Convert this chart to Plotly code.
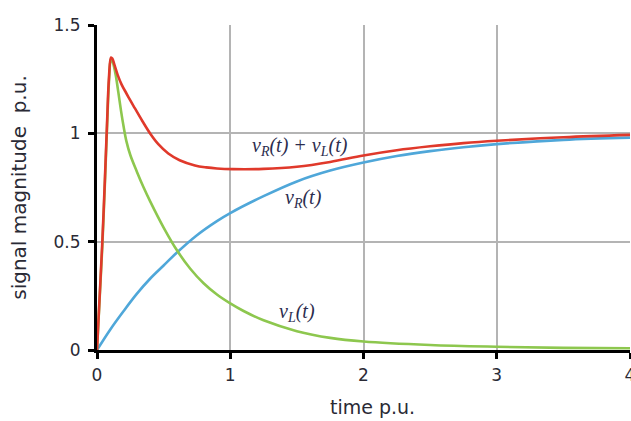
import plotly.graph_objects as go

# time samples (p.u.) and signal values
t_sum = [0, 0.02, 0.04, 0.06, 0.075, 0.09, 0.105, 0.115, 0.13, 0.155, 0.185, 0.22, 0.25,
         0.285, 0.34, 0.4, 0.46, 0.535, 0.62, 0.735, 0.82, 0.9, 1.02, 1.25, 1.5, 1.75,
         2.0, 2.25, 2.5, 2.75, 3.0, 3.5, 4.0]
v_sum = [0, 0.25, 0.5, 0.8, 1.04, 1.26, 1.35, 1.345, 1.318, 1.27, 1.225, 1.185, 1.152,
         1.115, 1.057, 0.998, 0.95, 0.907, 0.876, 0.852, 0.843, 0.838, 0.835, 0.836, 0.846,
         0.868, 0.898, 0.922, 0.94, 0.955, 0.966, 0.982, 0.993]

t_r = [0, 0.1, 0.2, 0.3, 0.4, 0.5, 0.6, 0.75, 0.9, 1.0, 1.25, 1.5, 1.75, 2.0, 2.25, 2.5,
       2.75, 3.0, 3.5, 4.0]
v_r = [0, 0.095, 0.18, 0.26, 0.33, 0.39, 0.45, 0.53, 0.595, 0.632, 0.71, 0.778, 0.828, 0.865,
       0.895, 0.918, 0.936, 0.95, 0.97, 0.98]

t_l = [0, 0.02, 0.04, 0.06, 0.075, 0.09, 0.105, 0.12, 0.14, 0.16, 0.18, 0.2, 0.22, 0.25,
       0.3, 0.35, 0.4, 0.5, 0.6, 0.7, 0.8, 0.9, 1.0, 1.1, 1.25, 1.5, 1.75, 2.0, 2.5, 3.0,
       3.5, 4.0]
v_l = [0, 0.24, 0.48, 0.78, 1.02, 1.24, 1.345, 1.325, 1.27, 1.19, 1.105, 1.03, 0.965, 0.9,
       0.822, 0.75, 0.685, 0.565, 0.46, 0.375, 0.308, 0.256, 0.215, 0.18, 0.137, 0.087,
       0.056, 0.039, 0.023, 0.015, 0.01, 0.008]

x_ticks = [0, 1, 2, 3, 4]
y_ticks = [0, 0.5, 1, 1.5]
y_tick_text = ["0", "0.5", "1", "1.5"]

labels = [
    (1.52, 0.94, "<i>v<sub>R</sub>(t) + v<sub>L</sub>(t)</i>"),
    (1.55, 0.70, "<i>v<sub>R</sub>(t)</i>"),
    (1.5, 0.175, "<i>v<sub>L</sub>(t)</i>"),
]

line_style = dict(width=2.6, shape="spline", smoothing=1.0)

fig = go.Figure()
fig.add_trace(go.Scatter(x=t_r, y=v_r, mode="lines", line=dict(color="#4fa7d9", **line_style)))
fig.add_trace(go.Scatter(x=t_l, y=v_l, mode="lines", line=dict(color="#8dc74e", **line_style)))
fig.add_trace(go.Scatter(x=t_sum, y=v_sum, mode="lines", line=dict(color="#e0392b", **line_style)))

for x, y, txt in labels:
    fig.add_annotation(x=x, y=y, text=txt, showarrow=False, xref="x", yref="y",
                       font=dict(family="Liberation Serif", size=20, color="#2b2d4e"))

# x-axis title placed as a paper annotation (it sits a little right of the plot centre)
fig.add_annotation(x=0.516, y=-0.175, xref="paper", yref="paper", text="time p.u.",
                   showarrow=False, xanchor="center", yanchor="middle",
                   font=dict(family="DejaVu Sans", size=19, color="#2a2a35"))

fig.update_layout(
    width=631, height=421,
    margin=dict(l=97, r=1, t=25, b=71, autoexpand=False),
    paper_bgcolor="white", plot_bgcolor="white",
    showlegend=False,
    font=dict(family="DejaVu Sans", size=16, color="#2a2a35"),
)
fig.update_xaxes(range=[0, 4], tickvals=x_ticks, showgrid=True, gridcolor="#b4b4b4", gridwidth=1.6,
                 showline=True, linecolor="black", linewidth=3, ticks="outside", tickcolor="black",
                 ticklen=6, tickwidth=3, zeroline=False, ticklabelstandoff=2, automargin=False,
                 ticklabeloverflow="allow", tickfont=dict(size=17))
fig.update_yaxes(range=[0, 1.5], tickvals=y_ticks, ticktext=y_tick_text, showgrid=True,
                 gridcolor="#b4b4b4", gridwidth=1.6, automargin=False,
                 showline=True, linecolor="black", linewidth=3, ticks="outside", tickcolor="black",
                 ticklen=6, tickwidth=3, zeroline=False, ticklabelstandoff=4,
                 title=dict(text="signal magnitude \u00a0p.u.", font=dict(size=20), standoff=22),
                 tickfont=dict(size=17))

# remove the default 8px page margin so the 631x421 figure fills the window exactly
fig.write_html("out.html", config={"displayModeBar": False},
               post_script="document.body.style.margin='0px';")
